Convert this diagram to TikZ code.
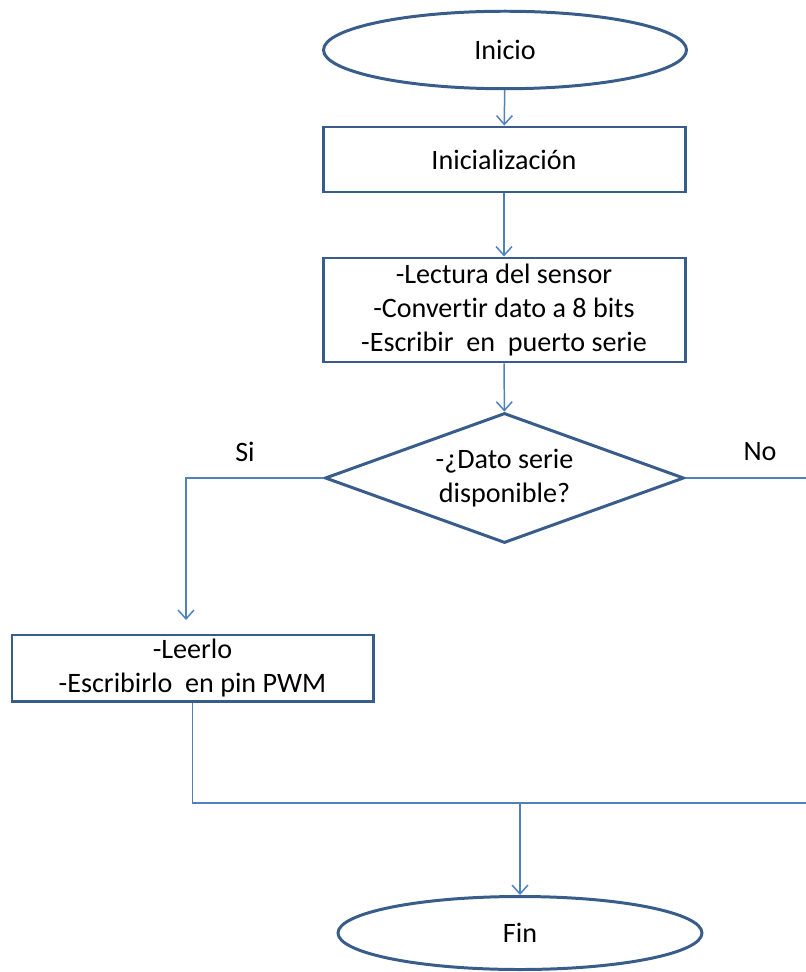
\documentclass[tikz,border=0pt]{standalone}
\usepackage{fontspec}
\setmainfont{Carlito}[Ligatures=NoCommon]
\usetikzlibrary{shapes.geometric,arrows.meta}
\definecolor{shapeblue}{RGB}{56,93,138}
\definecolor{lineblue}{RGB}{79,129,189}
\begin{document}
\begin{tikzpicture}[
		every node/.style={font=\fontsize{16}{19.5}\selectfont, text=black},
		terminal/.style={ellipse, draw=shapeblue, line width=1.7pt, inner sep=0pt, minimum width=7.26cm, minimum height=1.55cm},
		process/.style={rectangle, draw=shapeblue, line width=1.7pt, inner sep=0pt, minimum width=7.24cm, align=center},
		decision/.style={diamond, draw=shapeblue, line width=1.7pt, inner sep=0pt, aspect=2.76, minimum width=7.18cm, minimum height=2.6cm, align=center},
		conn/.style={draw=lineblue, line width=0.85pt},
		flow/.style={conn, -{Straight Barb[length=5pt,width=9pt]}}
	]
				\useasboundingbox (0,0) rectangle (16.12,-19.44);
				
				% start and setup
				\node[terminal] (inicio) at (10.10,-1.00) {Inicio};
				\node[process, minimum height=1.30cm] (init) at (10.08,-3.19) {Inicialización};
				\node[process, minimum height=2.08cm] (leer) at (10.08,-6.20) {-Lectura del sensor\\-Convertir dato a 8 bits\\-Escribir \ en \ puerto serie};
				\draw[flow] (inicio) -- (init);
				\draw[flow] (init) -- (leer);
				
				% decision
				\node[decision] (dato) at (10.09,-9.56) {-¿Dato serie\\disponible?};
				\draw[flow] (leer) -- (dato);
				\node (si) at (4.90,-9.04) {Si};
				\node (no) at (15.20,-9.04) {No};
				
				% si branch
				\node[process, minimum width=7.22cm, minimum height=1.32cm] (pwm) at (3.85,-13.36) {-Leerlo\\-Escribirlo \ en pin PWM};
				\coordinate (siend) at (3.72,-12.40);
				\draw[flow] (dato.west) -| (siend);
				
				% no branch and join
				\coordinate (rgt) at (16.40,-16.06);
				\coordinate (join) at (10.40,-16.06);
				\draw[conn] (dato.east) -| (rgt) -- (pwm.south |- rgt) -- (pwm.south);
				
				% end
				\node[terminal, minimum width=7.28cm, minimum height=1.46cm] (fin) at (10.40,-18.66) {Fin};
				\draw[flow] (join) -- (fin);
			\end{tikzpicture}
\end{document}
